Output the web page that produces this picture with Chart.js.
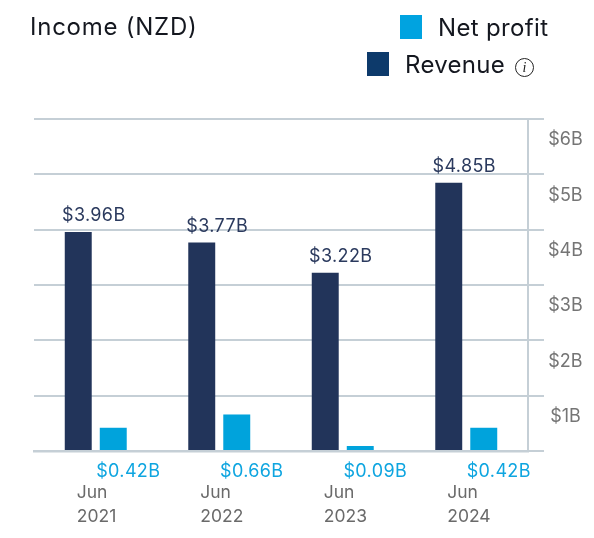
<!DOCTYPE html>
<html><head><meta charset="utf-8">
<script src="https://cdn.jsdelivr.net/npm/chart.js@4"></script>
<style>
html,body{margin:0;padding:0;background:#fff;width:594px;height:538px;overflow:hidden;font-family:Inter,sans-serif}
#wrap{position:relative;width:594px;height:538px}
canvas{position:absolute;left:0;top:0}
.t{position:absolute;white-space:nowrap;color:#14171f;line-height:1}
.s{position:absolute;width:22px;height:24px}
.i{position:absolute;left:515px;top:58px;width:17px;height:17px;border:1.2px solid #222;border-radius:50%;font:italic 14px/17px "Liberation Serif",serif;text-align:center;color:#222}
</style></head><body>
<div id="wrap">
<canvas id="c" width="594" height="538"></canvas>
<div class="t" style="left:30px;top:15px;font-size:24px;letter-spacing:.75px">Income (NZD)</div>
<div class="s" style="left:400px;top:15px;background:#00a3e0"></div>
<div class="t" style="left:438px;top:16px;font-size:24px;letter-spacing:.35px">Net profit</div>
<div class="s" style="left:367px;top:52px;background:#0d3a6b"></div>
<div class="t" style="left:405px;top:53px;font-size:24px;letter-spacing:.3px">Revenue</div>
<div class="i">i</div>
</div>
<script>
const categories = [['Jun','2021'],['Jun','2022'],['Jun','2023'],['Jun','2024']];
const revenue = [3.96,3.77,3.22,4.85];
const netProfit = [0.42,0.66,0.09,0.42];
const revenueLabels = ['$3.96B','$3.77B','$3.22B','$4.85B'];
const profitLabels = ['$0.42B','$0.66B','$0.09B','$0.42B'];
const GRID='#c5cfd6';
const valueLabels={id:'valueLabels',afterDatasetsDraw(ch){
  const c=ch.ctx;c.save();c.font='18px Inter';c.letterSpacing='0.35px';c.textAlign='center';c.textBaseline='middle';
  ch.getDatasetMeta(0).data.forEach((b,i)=>{c.fillStyle='#2b3a5e';c.fillText(revenueLabels[i],b.x+15.5,b.y-16);});
  ch.getDatasetMeta(1).data.forEach((b,i)=>{c.fillStyle='#0ea5e0';c.fillText(profitLabels[i],b.x+15,ch.scales.y.bottom+21);});
  c.restore();
}};
new Chart(document.getElementById('c'),{
  type:'bar',
  data:{labels:categories,datasets:[
    {label:'Revenue',data:revenue,backgroundColor:'#22345a'},
    {label:'Net profit',data:netProfit,backgroundColor:'#00a3dc'}
  ]},
  options:{
    responsive:false,animation:false,
    layout:{padding:{left:34,top:119,right:0,bottom:0}},
    datasets:{bar:{categoryPercentage:0.567,barPercentage:0.77}},
    plugins:{legend:{display:false},tooltip:{enabled:false}},
    scales:{
      x:{
        grid:{display:false},
        border:{display:true,color:GRID,width:2.5},
        afterFit(s){s.height=87;},
        ticks:{padding:22,align:'start',labelOffset:-19,maxRotation:0,autoSkip:false,color:'#6a6a6a',font:{family:'Inter',size:17.5,lineHeight:1.37}}
      },
      y:{
        position:'right',min:0,max:6,
        grid:{color:GRID,lineWidth:2,tickLength:16,drawTicks:true},
        border:{display:true,color:GRID,width:2},
        afterFit(s){s.width=66;},
        ticks:{stepSize:1,padding:4,crossAlign:'center',labelOffset:21,color:'#757575',font:{family:'Inter',size:18},
          callback:v=>v===0?'':'$'+v+'B'}
      }
    }
  },
  plugins:[valueLabels]
});
</script>
</body></html>
